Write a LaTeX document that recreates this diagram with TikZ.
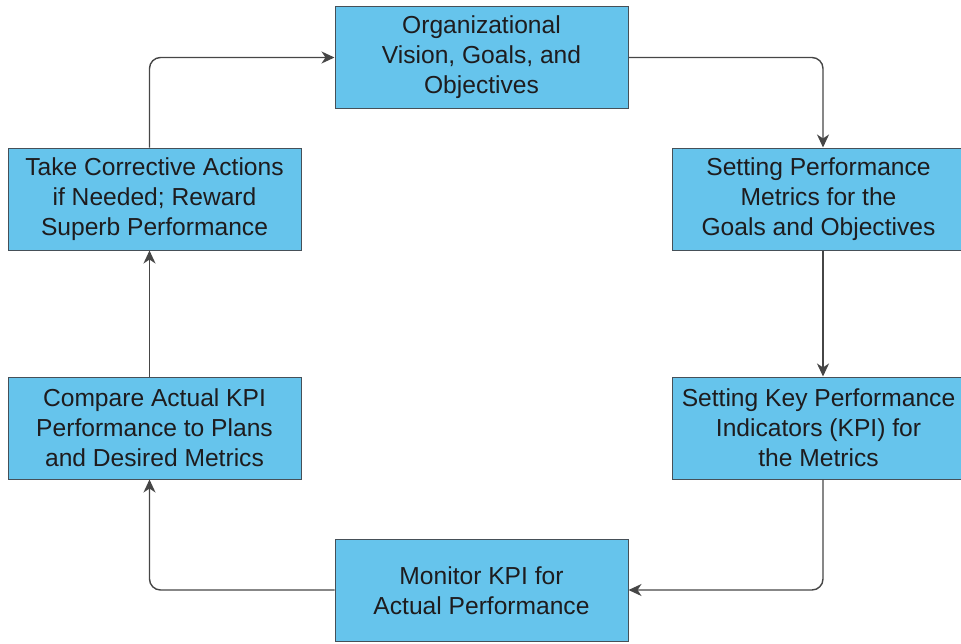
\documentclass[tikz,border=0pt]{standalone}
\usepackage{fontspec}
\setmainfont{Liberation Sans}
\usetikzlibrary{arrows.meta}
\definecolor{boxfill}{RGB}{102,196,236}
\definecolor{boxline}{RGB}{70,80,88}
\definecolor{inktext}{RGB}{30,28,30}
\definecolor{linkgray}{RGB}{70,70,70}
\tikzset{
  stage/.style={draw=boxline, line width=1pt, fill=boxfill, text=inktext,
    minimum width=293pt, minimum height=102pt, inner sep=0pt, align=center,
    font=\fontsize{24.6pt}{30pt}\selectfont},
  link/.style={draw=linkgray, line width=1.4pt, rounded corners=11pt,
    -{Stealth[length=13pt,width=12pt,inset=4pt]}}
}
\begin{document}
\begin{tikzpicture}[x=1pt,y=-1pt]
\useasboundingbox (0,0) rectangle (961,643);
% the six stages of the cycle
\node[stage] (vision)  at (481.5,57)  {Organizational\\Vision, Goals, and\\Objectives};
\node[stage] (metrics) at (818.5,199) {Setting Performance\\Metrics for the\\Goals and Objectives};
\node[stage] (kpi)     at (818.5,428) {Setting Key Performance\\Indicators (KPI) for\\the Metrics};
\node[stage] (monitor) at (481.5,590.5) {Monitor KPI for\\Actual Performance};
\node[stage] (compare) at (154.5,428) {Compare Actual KPI\\Performance to Plans\\and Desired Metrics};
\node[stage] (correct) at (154.5,199) {Take Corrective Actions\\if Needed; Reward\\Superb Performance};
% corner points of the connectors
\coordinate (c1) at (823,57.5);
\coordinate (c2) at (823,590);
\coordinate (c3) at (149.5,590);
\coordinate (c4) at (149.5,57.5);
% connectors
\draw[link] (vision.east |- c1) -- (c1) -- (c1 |- metrics.north);
\draw[link] (c1 |- metrics.south) -- (c1 |- kpi.north);
\draw[link] (c2 |- kpi.south) -- (c2) -- (monitor.east |- c2);
\draw[link] (monitor.west |- c3) -- (c3) -- (c3 |- compare.south);
\draw[link] (c3 |- compare.north) -- (c3 |- correct.south);
\draw[link] (c4 |- correct.north) -- (c4) -- (vision.west |- c4);
\end{tikzpicture}
\end{document}
